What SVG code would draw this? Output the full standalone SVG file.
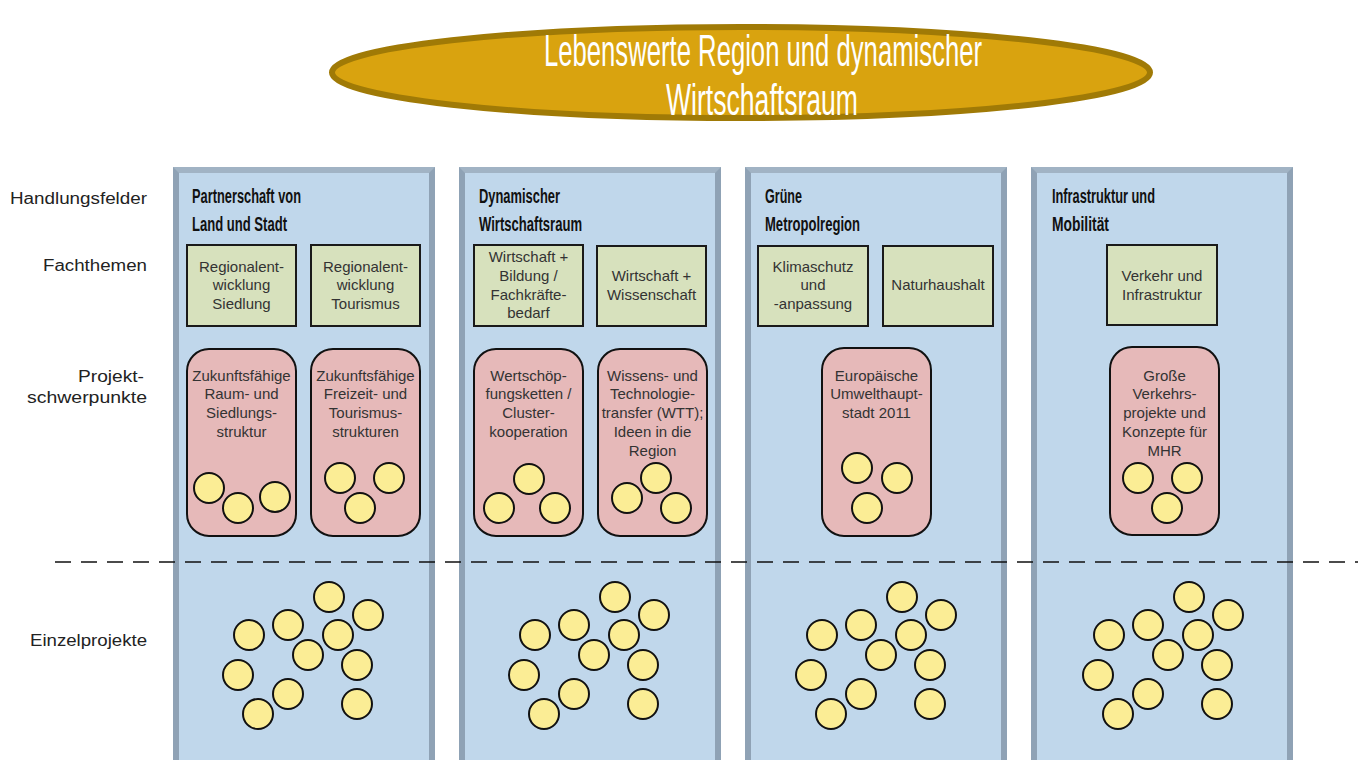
<svg xmlns="http://www.w3.org/2000/svg" width="1358" height="760" viewBox="0 0 1358 760">
<style>
.frame{fill:#8fa2b5}
.bevel{fill:#a1b3c4}
.inner{fill:#c0d7eb}
.fach{fill:#d7e1bd;stroke:#1a1a1a;stroke-width:2}
.proj{fill:#e6b9b9;stroke:#111;stroke-width:2}
.dot{fill:#fbed95;stroke:#111;stroke-width:2}
.lbl{font-family:"Liberation Sans",Arial,sans-serif;font-size:16px;fill:#222}
.bt{font-family:"Liberation Sans",Arial,sans-serif;font-size:15px;fill:#333;text-anchor:middle}
.hd{font-family:"Liberation Sans",Arial,sans-serif;font-size:20px;font-weight:bold;fill:#111}
.title{font-family:"Liberation Sans",Arial,sans-serif;font-size:45px;fill:#fff;text-anchor:start}
</style>
<defs>
<g id="cluster">
<circle class="dot" cx="329" cy="597" r="15"/>
<circle class="dot" cx="368" cy="615" r="15"/>
<circle class="dot" cx="249" cy="635" r="15"/>
<circle class="dot" cx="288" cy="625" r="15"/>
<circle class="dot" cx="338" cy="635" r="15"/>
<circle class="dot" cx="308" cy="655" r="15"/>
<circle class="dot" cx="357" cy="665" r="15"/>
<circle class="dot" cx="238" cy="675" r="15"/>
<circle class="dot" cx="288" cy="694" r="15"/>
<circle class="dot" cx="357" cy="704" r="15"/>
<circle class="dot" cx="258" cy="714" r="15"/>
</g>
</defs>
<rect width="1358" height="760" fill="#fff"/>

<g id="title">
<ellipse cx="741" cy="72.5" rx="409" ry="45.5" fill="#d9a30f" stroke="#a07a06" stroke-width="6"/>
<text class="title" x="544" y="66" textLength="438" lengthAdjust="spacingAndGlyphs">Lebenswerte Region und dynamischer</text>
<text class="title" x="666" y="115" textLength="192" lengthAdjust="spacingAndGlyphs">Wirtschaftsraum</text>
</g>

<g id="row-labels">
<text class="lbl" x="10" y="204" textLength="137" lengthAdjust="spacingAndGlyphs">Handlungsfelder</text>
<text class="lbl" x="43" y="271" textLength="104" lengthAdjust="spacingAndGlyphs">Fachthemen</text>
<text class="lbl" x="78" y="382" textLength="66" lengthAdjust="spacingAndGlyphs">Projekt-</text>
<text class="lbl" x="27" y="403" textLength="120" lengthAdjust="spacingAndGlyphs">schwerpunkte</text>
<text class="lbl" x="30" y="646" textLength="117" lengthAdjust="spacingAndGlyphs">Einzelprojekte</text>
</g>

<g id="col1">
<rect class="frame" x="173" y="167" width="262" height="600"/>
<polygon class="bevel" points="173,167 435,167 429,173 179,173"/>
<rect class="inner" x="179" y="173" width="250" height="600"/>
<text class="hd" x="192" y="203" textLength="109" lengthAdjust="spacingAndGlyphs">Partnerschaft von</text>
<text class="hd" x="192" y="231" textLength="95" lengthAdjust="spacingAndGlyphs">Land und Stadt</text>
</g>
<g id="col2">
<rect class="frame" x="459" y="167" width="262" height="600"/>
<polygon class="bevel" points="459,167 721,167 715,173 465,173"/>
<rect class="inner" x="465" y="173" width="250" height="600"/>
<text class="hd" x="479" y="203" textLength="81" lengthAdjust="spacingAndGlyphs">Dynamischer</text>
<text class="hd" x="479" y="231" textLength="103" lengthAdjust="spacingAndGlyphs">Wirtschaftsraum</text>
</g>
<g id="col3">
<rect class="frame" x="745" y="167" width="262" height="600"/>
<polygon class="bevel" points="745,167 1007,167 1001,173 751,173"/>
<rect class="inner" x="751" y="173" width="250" height="600"/>
<text class="hd" x="765" y="203" textLength="37" lengthAdjust="spacingAndGlyphs">Grüne</text>
<text class="hd" x="765" y="231" textLength="95" lengthAdjust="spacingAndGlyphs">Metropolregion</text>
</g>
<g id="col4">
<rect class="frame" x="1031" y="167" width="262" height="600"/>
<polygon class="bevel" points="1031,167 1293,167 1287,173 1037,173"/>
<rect class="inner" x="1037" y="173" width="250" height="600"/>
<text class="hd" x="1052" y="203" textLength="103" lengthAdjust="spacingAndGlyphs">Infrastruktur und</text>
<text class="hd" x="1052" y="231" textLength="57" lengthAdjust="spacingAndGlyphs">Mobilität</text>
</g>

<g id="fach-siedlung">
<rect class="fach" x="187" y="245" width="109" height="81"/>
<text class="bt" x="241.5" y="272">Regionalent-</text>
<text class="bt" x="241.5" y="290">wicklung</text>
<text class="bt" x="241.5" y="309">Siedlung</text>
</g>
<g id="fach-tourismus">
<rect class="fach" x="311" y="245" width="109" height="81"/>
<text class="bt" x="365.5" y="272">Regionalent-</text>
<text class="bt" x="365.5" y="290">wicklung</text>
<text class="bt" x="365.5" y="309">Tourismus</text>
</g>
<g id="fach-bildung">
<rect class="fach" x="474" y="245" width="109" height="81"/>
<text class="bt" x="528.5" y="262">Wirtschaft +</text>
<text class="bt" x="528.5" y="281">Bildung /</text>
<text class="bt" x="528.5" y="300">Fachkräfte-</text>
<text class="bt" x="528.5" y="318">bedarf</text>
</g>
<g id="fach-wissenschaft">
<rect class="fach" x="597" y="246" width="109" height="80"/>
<text class="bt" x="651.5" y="281">Wirtschaft +</text>
<text class="bt" x="651.5" y="300">Wissenschaft</text>
</g>
<g id="fach-klima">
<rect class="fach" x="758" y="246" width="110" height="80"/>
<text class="bt" x="813" y="272">Klimaschutz</text>
<text class="bt" x="813" y="290">und</text>
<text class="bt" x="813" y="309">-anpassung</text>
</g>
<g id="fach-natur">
<rect class="fach" x="883" y="246" width="110" height="80"/>
<text class="bt" x="938" y="290">Naturhaushalt</text>
</g>
<g id="fach-verkehr">
<rect class="fach" x="1107" y="245" width="110" height="80"/>
<text class="bt" x="1162" y="281">Verkehr und</text>
<text class="bt" x="1162" y="300">Infrastruktur</text>
</g>

<g id="proj-raum">
<rect class="proj" x="187" y="349" width="109" height="187" rx="22"/>
<text class="bt" x="241.5" y="381">Zukunftsfähige</text>
<text class="bt" x="241.5" y="399">Raum- und</text>
<text class="bt" x="241.5" y="418">Siedlungs-</text>
<text class="bt" x="241.5" y="437">struktur</text>
<circle class="dot" cx="209" cy="488" r="15"/>
<circle class="dot" cx="238" cy="508" r="15"/>
<circle class="dot" cx="275" cy="497" r="15"/>
</g>
<g id="proj-freizeit">
<rect class="proj" x="311" y="349" width="109" height="187" rx="22"/>
<text class="bt" x="365.5" y="381">Zukunftsfähige</text>
<text class="bt" x="365.5" y="399">Freizeit- und</text>
<text class="bt" x="365.5" y="418">Tourismus-</text>
<text class="bt" x="365.5" y="437">strukturen</text>
<circle class="dot" cx="340" cy="478" r="15"/>
<circle class="dot" cx="360" cy="508" r="15"/>
<circle class="dot" cx="389" cy="478" r="15"/>
</g>
<g id="proj-wertschoepfung">
<rect class="proj" x="474" y="349" width="109" height="187" rx="22"/>
<text class="bt" x="528.5" y="381">Wertschöp-</text>
<text class="bt" x="528.5" y="399">fungsketten /</text>
<text class="bt" x="528.5" y="418">Cluster-</text>
<text class="bt" x="528.5" y="437">kooperation</text>
<circle class="dot" cx="529" cy="479" r="15"/>
<circle class="dot" cx="499" cy="508" r="15"/>
<circle class="dot" cx="555" cy="508" r="15"/>
</g>
<g id="proj-wtt">
<rect class="proj" x="598" y="349" width="109" height="187" rx="22"/>
<text class="bt" x="652.5" y="381">Wissens- und</text>
<text class="bt" x="652.5" y="399">Technologie-</text>
<text class="bt" x="652.5" y="418">transfer (WTT);</text>
<text class="bt" x="652.5" y="437">Ideen in die</text>
<text class="bt" x="652.5" y="456">Region</text>
<circle class="dot" cx="656" cy="478" r="15"/>
<circle class="dot" cx="627" cy="498" r="15"/>
<circle class="dot" cx="676" cy="508" r="15"/>
</g>
<g id="proj-umwelthauptstadt">
<rect class="proj" x="822" y="348" width="109" height="188" rx="22"/>
<text class="bt" x="876.5" y="381">Europäische</text>
<text class="bt" x="876.5" y="399">Umwelthaupt-</text>
<text class="bt" x="876.5" y="418">stadt 2011</text>
<circle class="dot" cx="857" cy="468" r="15"/>
<circle class="dot" cx="897" cy="478" r="15"/>
<circle class="dot" cx="867" cy="508" r="15"/>
</g>
<g id="proj-verkehr">
<rect class="proj" x="1110" y="347" width="109" height="188" rx="22"/>
<text class="bt" x="1164.5" y="381">Große</text>
<text class="bt" x="1164.5" y="399">Verkehrs-</text>
<text class="bt" x="1164.5" y="418">projekte und</text>
<text class="bt" x="1164.5" y="437">Konzepte für</text>
<text class="bt" x="1164.5" y="456">MHR</text>
<circle class="dot" cx="1138" cy="478" r="15"/>
<circle class="dot" cx="1187" cy="478" r="15"/>
<circle class="dot" cx="1167" cy="508" r="15"/>
</g>

<g id="einzelprojekte">
<use href="#cluster"/>
<use href="#cluster" transform="translate(286,0)"/>
<use href="#cluster" transform="translate(573,0)"/>
<use href="#cluster" transform="translate(860,0)"/>
</g>

<g id="connectors">
<line x1="55" y1="562" x2="1358" y2="562" stroke="#111" stroke-width="1.5" stroke-dasharray="16 10"/>
</g>
</svg>
